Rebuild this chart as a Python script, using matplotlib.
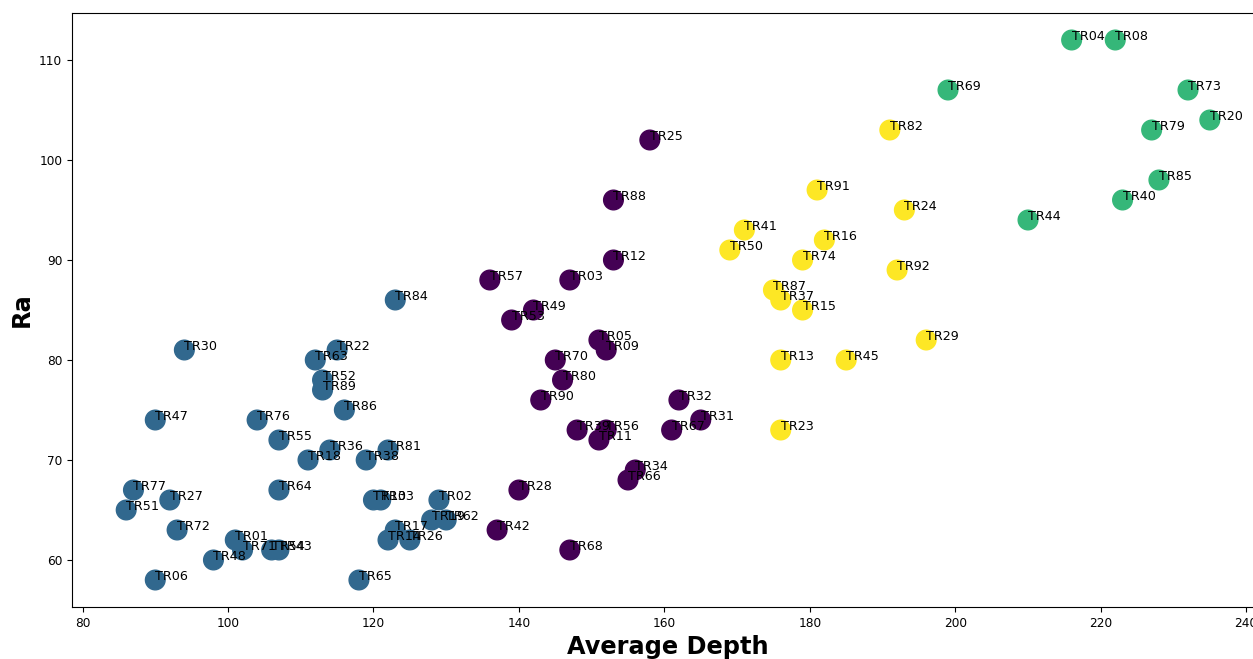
import matplotlib
matplotlib.use("Agg")
import matplotlib.pyplot as plt

# Site labels, average depth, Ra value and cluster id (0 purple, 1 blue, 2 green, 3 yellow)
labels = [
    # cluster 1 (blue)
    "TR30", "TR22", "TR63", "TR52", "TR89", "TR86", "TR47", "TR76", "TR55", "TR36",
    "TR18", "TR81", "TR38", "TR84", "TR64", "TR77", "TR27", "TR51", "TR72", "TR01",
    "TR71", "TR54", "TR43", "TR48", "TR06", "TR65", "TR10", "TR33", "TR17", "TR14",
    "TR26", "TR02", "TR19", "TR62",
    # cluster 0 (purple)
    "TR25", "TR88", "TR12", "TR57", "TR03", "TR49", "TR53", "TR05", "TR09", "TR70",
    "TR80", "TR90", "TR32", "TR31", "TR67", "TR39", "TR56", "TR11", "TR34", "TR66",
    "TR28", "TR42", "TR68",
    # cluster 2 (green)
    "TR04", "TR08", "TR69", "TR73", "TR20", "TR79", "TR85", "TR40", "TR44",
    # cluster 3 (yellow)
    "TR82", "TR91", "TR24", "TR41", "TR16", "TR50", "TR74", "TR92", "TR87", "TR37",
    "TR15", "TR29", "TR13", "TR45", "TR23",
]

avg_depth = [
    94, 115, 112, 113, 113, 116, 90, 104, 107, 114,
    111, 122, 119, 123, 107, 87, 92, 86, 93, 101,
    102, 106, 107, 98, 90, 118, 120, 121, 123, 122,
    125, 129, 128, 130,
    158, 153, 153, 136, 147, 142, 139, 151, 152, 145,
    146, 143, 162, 165, 161, 148, 152, 151, 156, 155,
    140, 137, 147,
    216, 222, 199, 232, 235, 227, 228, 223, 210,
    191, 181, 193, 171, 182, 169, 179, 192, 175, 176,
    179, 196, 176, 185, 176,
]

ra = [
    81, 81, 80, 78, 77, 75, 74, 74, 72, 71,
    70, 71, 70, 86, 67, 67, 66, 65, 63, 62,
    61, 61, 61, 60, 58, 58, 66, 66, 63, 62,
    62, 66, 64, 64,
    102, 96, 90, 88, 88, 85, 84, 82, 81, 80,
    78, 76, 76, 74, 73, 73, 73, 72, 69, 68,
    67, 63, 61,
    112, 112, 107, 107, 104, 103, 98, 96, 94,
    103, 97, 95, 93, 92, 91, 90, 89, 87, 86,
    85, 82, 80, 80, 73,
]

cluster = [1] * 34 + [0] * 23 + [2] * 9 + [3] * 15

fig = plt.figure(figsize=(12.53, 6.59), dpi=100)
ax = fig.add_axes([72 / 1253, 52 / 659, 1192 / 1253, 594 / 659])

ax.scatter(avg_depth, ra, c=cluster, cmap="viridis", s=200)
for name, x, y in zip(labels, avg_depth, ra):
    ax.text(x, y, name, fontsize=9.2)

ax.set_xlabel("Average Depth", fontsize=17.3, fontweight="bold")
ax.set_ylabel("Ra", fontsize=17.3, fontweight="bold")
ax.tick_params(labelsize=8.7)

fig.savefig("out.png", dpi=100)
